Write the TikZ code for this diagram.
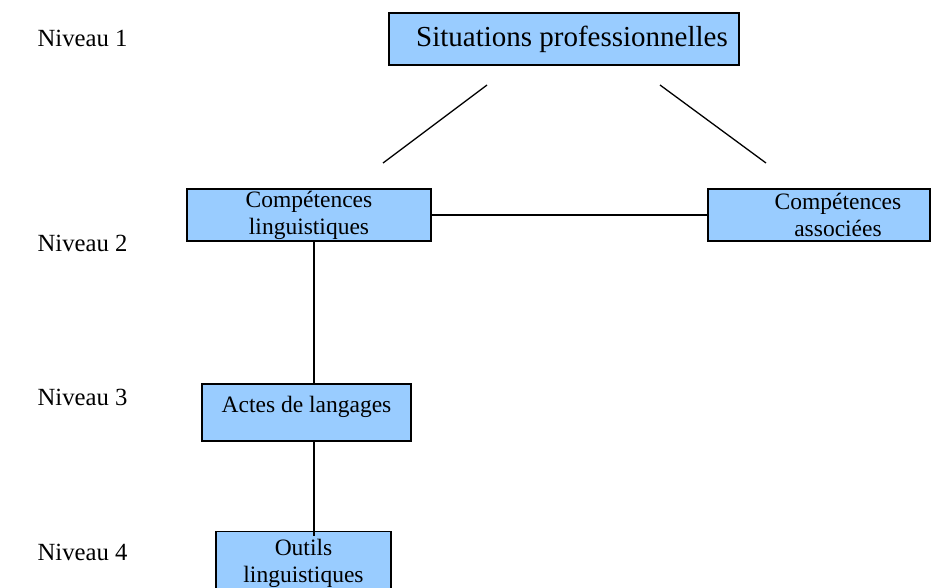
\documentclass[tikz,border=0pt]{standalone}
\usepackage{fontspec}
\setmainfont{Liberation Serif}
\definecolor{boxblue}{HTML}{99CCFF}

\tikzset{box/.style={draw=black, fill=boxblue, line width=1.3pt, inner sep=0pt, align=center},
         level/.style={anchor=west, inner sep=0pt, font=\fontsize{24.7}{28}\selectfont}}

\begin{document}
\begin{tikzpicture}[x=1pt, y=-1pt, line width=1.3pt]

\useasboundingbox (0,0) rectangle (932,588);
\clip (0,0) rectangle (932,588);

% levels on the left
\node[level] (n1) at (37,38) {Niveau 1};
\node[level] (n2) at (37,243) {Niveau 2};
\node[level] (n3) at (37,397) {Niveau 3};
\node[level] (n4) at (37,552) {Niveau 4};

% the boxes
\node[box, minimum width=350pt, minimum height=52pt, font=\fontsize{29}{32}\selectfont]
    (sit) at (564,39) {\hspace*{16pt}Situations professionnelles};
\node[box, minimum width=244pt, minimum height=52pt, font=\fontsize{23.5}{27}\selectfont]
    (ling) at (309,215) {Compétences\\linguistiques};
\node[box, minimum width=222pt, minimum height=52pt, font=\fontsize{23.5}{27}\selectfont]
    (assoc) at (819,215) {\hspace*{38pt}Compétences\\\hspace*{38pt}associées};
\node[box, minimum width=209pt, minimum height=57pt, text height=10pt, text depth=10pt,
      font=\fontsize{23.5}{27}\selectfont]
    (actes) at (306.5,412.5) {Actes de langages};
\node[box, minimum width=175pt, minimum height=63pt, font=\fontsize{23.5}{27}\selectfont]
    (outils) at (303.5,563) {Outils\\linguistiques};

% free connectors under the top box
\coordinate (sitL) at (487,85);
\coordinate (lingT) at (383,163);
\coordinate (sitR) at (660,85);
\coordinate (assocT) at (766,163);
\draw (sitL) -- (lingT);
\draw (sitR) -- (assocT);

\coordinate (spine) at (314,0);
\draw (ling.east) -- (assoc.west);
\draw (ling.south -| spine) -- (actes.north -| spine);
\draw (actes.south -| spine) -- ([yshift=-5pt]outils.north -| spine);

\end{tikzpicture}
\end{document}
